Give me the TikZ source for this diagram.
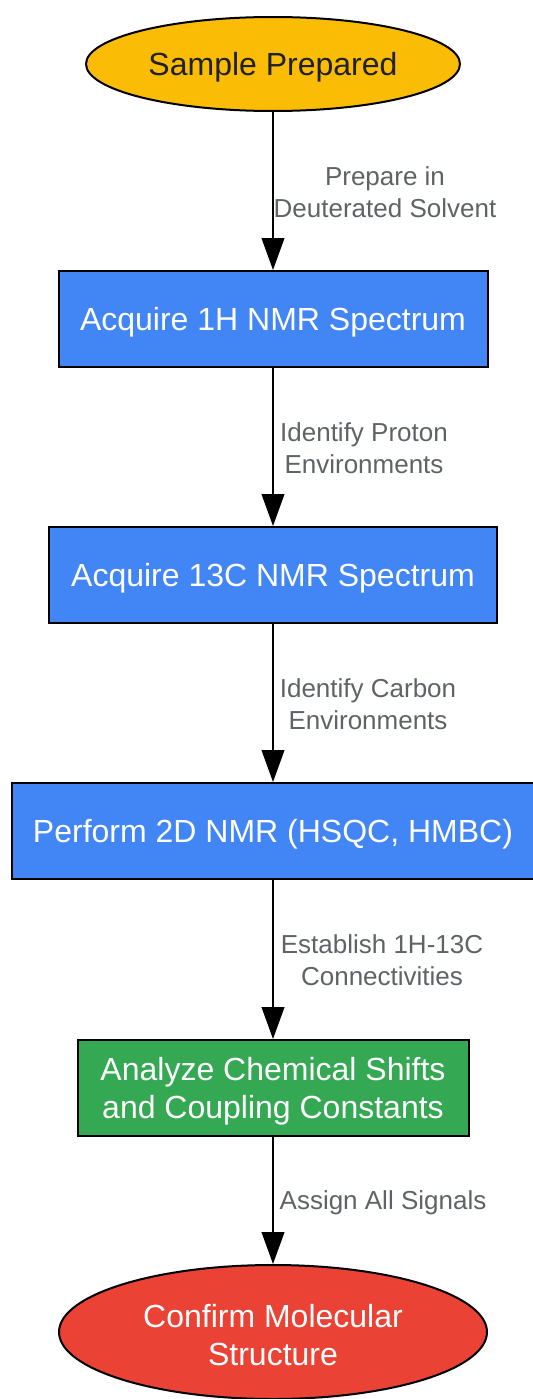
\documentclass[tikz,border=0pt]{standalone}
\usepackage{fontspec}
\setmainfont{Liberation Sans}
\usetikzlibrary{shapes.geometric,arrows.meta}

\definecolor{gyellow}{HTML}{FBBC05}
\definecolor{gblue}{HTML}{4285F4}
\definecolor{ggreen}{HTML}{34A853}
\definecolor{gred}{HTML}{EA4335}
\definecolor{lblgray}{HTML}{5F6368}
\definecolor{darktxt}{HTML}{202124}

\tikzset{
  stepbox/.style={draw=black, line width=1.5pt, rectangle, text=white,
    minimum height=72pt, inner sep=0pt, align=center, text height=21.5pt,
    font=\fontsize{24}{28.5}\selectfont},
  endpoint/.style={draw=black, line width=1.5pt, ellipse, inner sep=0pt,
    align=center, text height=21.5pt, font=\fontsize{24}{28.5}\selectfont},
  twolines/.style={text height=50pt},
  elabel/.style={text=lblgray, align=center, inner sep=0pt,
    font=\fontsize{19.5}{24}\selectfont},
  flow/.style={line width=1.5pt, -{Triangle[length=24pt,width=17pt]}}
}

\begin{document}
\begin{tikzpicture}[x=0.75pt,y=-0.75pt]
    % Rahmen
    \useasboundingbox[fill=white] (0,0) rectangle (532,1399);

    % Knoten
    \node[endpoint, fill=gyellow, text=darktxt, minimum width=280.5pt, minimum height=70.5pt] (sample) at (273,64) {Sample Prepared};
    \node[stepbox, fill=gblue, minimum width=321.75pt] (hnmr) at (273,319) {Acquire 1H NMR Spectrum};
    \node[stepbox, fill=gblue, minimum width=336pt] (cnmr) at (273,575) {Acquire 13C NMR Spectrum};
    \node[stepbox, fill=gblue, minimum width=391.5pt] (twod) at (273,831) {Perform 2D NMR (HSQC, HMBC)};
    \node[stepbox, twolines, fill=ggreen, minimum width=293.25pt] (shifts) at (273,1088) {Analyze Chemical Shifts\\and Coupling Constants};
    \node[endpoint, twolines, fill=gred, text=white, minimum width=321pt, minimum height=100.5pt] (confirm) at (273,1332) {Confirm Molecular\\Structure};

    % Pfeile
    \draw[flow] (sample) -- (hnmr);
    \draw[flow] (hnmr) -- (cnmr);
    \draw[flow] (cnmr) -- (twod);
    \draw[flow] (twod) -- (shifts);
    \draw[flow] (shifts) -- (confirm);

    % Beschriftungen
    \node[elabel] (lprep) at (385,192) {Prepare in\\Deuterated Solvent};
    \node[elabel] (lproton) at (364,448) {Identify Proton\\Environments};
    \node[elabel] (lcarbon) at (368,704) {Identify Carbon\\Environments};
    \node[elabel] (lconn) at (382,960) {Establish 1H-13C\\Connectivities};
    \node[elabel] (lassign) at (383,1203) {Assign All Signals};
\end{tikzpicture}
\end{document}
